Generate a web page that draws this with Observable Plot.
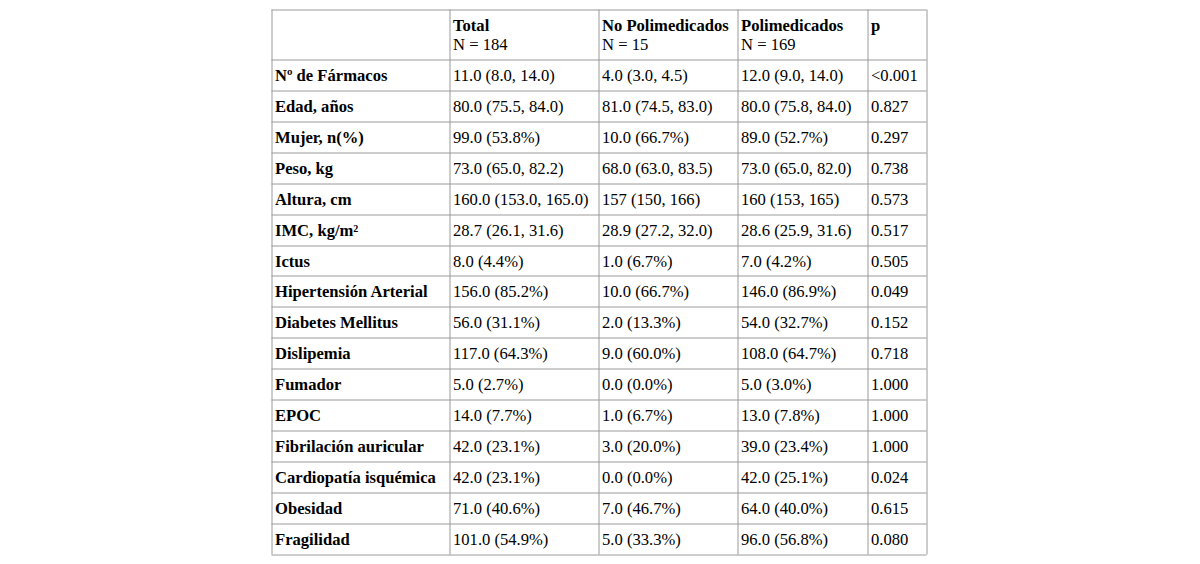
<!DOCTYPE html>
<html>
<head>
<meta charset="utf-8">
<script src="https://cdn.jsdelivr.net/npm/d3@7"></script>
<script src="https://cdn.jsdelivr.net/npm/@observablehq/plot@0.6"></script>
<style>
  html, body { margin: 0; padding: 0; background: #fff; }
  #chart svg { display: block; }
</style>
</head>
<body>
<div id="chart"></div>
<script>
// ---- data ----
const headers = ["", "Total", "No Polimedicados", "Polimedicados", "p"];
const headerN = ["", "N = 184", "N = 15", "N = 169", ""];
const variables = ["Nº de Fármacos", "Edad, años", "Mujer, n(%)", "Peso, kg", "Altura, cm", "IMC, kg/m²", "Ictus",
  "Hipertensión Arterial", "Diabetes Mellitus", "Dislipemia", "Fumador", "EPOC", "Fibrilación auricular",
  "Cardiopatía isquémica", "Obesidad", "Fragilidad"];
const totalValues = ["11.0 (8.0, 14.0)", "80.0 (75.5, 84.0)", "99.0 (53.8%)", "73.0 (65.0, 82.2)", "160.0 (153.0, 165.0)",
  "28.7 (26.1, 31.6)", "8.0 (4.4%)", "156.0 (85.2%)", "56.0 (31.1%)", "117.0 (64.3%)", "5.0 (2.7%)", "14.0 (7.7%)",
  "42.0 (23.1%)", "42.0 (23.1%)", "71.0 (40.6%)", "101.0 (54.9%)"];
const noPoliValues = ["4.0 (3.0, 4.5)", "81.0 (74.5, 83.0)", "10.0 (66.7%)", "68.0 (63.0, 83.5)", "157 (150, 166)",
  "28.9 (27.2, 32.0)", "1.0 (6.7%)", "10.0 (66.7%)", "2.0 (13.3%)", "9.0 (60.0%)", "0.0 (0.0%)", "1.0 (6.7%)",
  "3.0 (20.0%)", "0.0 (0.0%)", "7.0 (46.7%)", "5.0 (33.3%)"];
const poliValues = ["12.0 (9.0, 14.0)", "80.0 (75.8, 84.0)", "89.0 (52.7%)", "73.0 (65.0, 82.0)", "160 (153, 165)",
  "28.6 (25.9, 31.6)", "7.0 (4.2%)", "146.0 (86.9%)", "54.0 (32.7%)", "108.0 (64.7%)", "5.0 (3.0%)", "13.0 (7.8%)",
  "39.0 (23.4%)", "42.0 (25.1%)", "64.0 (40.0%)", "96.0 (56.8%)"];
const pValues = ["<0.001", "0.827", "0.297", "0.738", "0.573", "0.517", "0.505", "0.049", "0.152", "0.718",
  "1.000", "1.000", "1.000", "0.024", "0.615", "0.080"];

// ---- layout ----
const W = 1200, H = 564;
const colEdges = [271.5, 449.5, 598.5, 737.5, 867.5, 926.5];
const tableTop = 9.5, headerH = 50, rowH = 30.92;
const padX = 3;
const fs = 16.6;
const rowEdges = [tableTop, tableTop + headerH];
for (let i = 1; i <= variables.length; i++) rowEdges.push(Math.round(tableTop + headerH + i * rowH - 0.5) + 0.5);
const tableBottom = rowEdges[rowEdges.length - 1];

const columns = [variables, totalValues, noPoliValues, poliValues, pValues];
const labelCells = [], valueCells = [];
columns.forEach((col, c) => col.forEach((text, r) => (c === 0 ? labelCells : valueCells).push({
  text, x: colEdges[c] + padX, y: rowEdges[r + 1] + 20.5
})));
const headCells = headers.map((t, c) => ({ text: t, x: colEdges[c] + padX, y: tableTop + 21.3 }));
const headNCells = headerN.map((t, c) => ({ text: t, x: colEdges[c] + padX, y: tableTop + 39.8 }));

const font = "'Liberation Serif', 'Times New Roman', Times, serif";
const txt = (data, weight) => Plot.text(data, { x: "x", y: "y", text: "text", textAnchor: "start", lineAnchor: "bottom",
  fontSize: fs, fontWeight: weight, fill: "#000", fontFamily: font });
const chart = Plot.plot({
  width: W, height: H,
  margin: 0,
  style: { fontFamily: font, fontSize: fs + "px", background: "#fff", color: "#000" },
  x: { type: "linear", domain: [0, W], range: [0, W], axis: null },
  y: { type: "linear", domain: [0, H], range: [0, H], axis: null },
  marks: [
    Plot.ruleY(rowEdges, { y: d => d, x1: colEdges[0], x2: colEdges[colEdges.length - 1], stroke: "#9a9a9a", strokeWidth: 1 }),
    Plot.ruleX(colEdges, { x: d => d, y1: tableTop, y2: tableBottom, stroke: "#9a9a9a", strokeWidth: 1 }),
    txt(headCells, "bold"),
    txt(headNCells, "normal"),
    txt(labelCells, "bold"),
    txt(valueCells, "normal")
  ]
});
document.getElementById("chart").appendChild(chart);
</script>
</body>
</html>
